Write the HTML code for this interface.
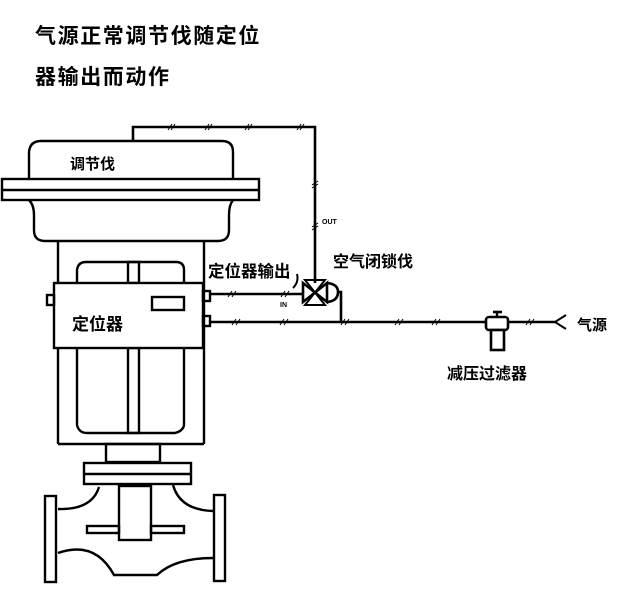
<!DOCTYPE html>
<html><head><meta charset="utf-8"><style>
html,body{margin:0;padding:0;background:#fff;}
svg{display:block;}
text{font-family:"Liberation Sans","Noto Sans CJK SC","WenQuanYi Zen Hei",sans-serif;font-weight:bold;fill:#000;}
</style></head><body>
<svg width="617" height="602" viewBox="0 0 617 602" xmlns="http://www.w3.org/2000/svg">
<g fill="none" stroke="#000" stroke-width="2.4">
<polyline points="133,141 133,127 315,127 315,283" stroke-width="2.6"/>
<path d="M29,179 L29,152 Q30,141 41,141 L222,141 Q233,141 233,152 L233,179"/>
<rect x="2" y="179" width="257" height="21"/>
<line x1="2" y1="190" x2="259" y2="190" stroke-width="2.6"/>
<path d="M29,200 Q34,205 34,215 L34,230 Q34,241 45,241 L218,241 Q229,241 229,230 L229,215 Q229,205 233,200"/>
<line x1="58" y1="241" x2="58" y2="444"/>
<line x1="204" y1="241" x2="204" y2="444"/>
<line x1="58" y1="444" x2="204" y2="444"/>
<path d="M77,283 L77,270 Q78,262 86,262 L176,262 Q184,262 184,270 L184,283"/>
<path d="M77,348 L77,425 Q79,433 87,433 L175,433 Q183,431 184,425 L184,348"/>
<rect x="128" y="262" width="11" height="21"/>
<rect x="128" y="348" width="11" height="85"/>
<rect x="54" y="283" width="149" height="65" fill="#fff"/>
<rect x="47" y="295" width="7" height="10"/>
<rect x="203" y="291" width="7" height="10"/>
<rect x="203" y="316" width="7" height="10"/>
<rect x="152" y="297" width="32" height="13"/>
<line x1="210" y1="294" x2="303" y2="294" stroke-width="2.6"/>
<line x1="210" y1="322" x2="555" y2="322" stroke-width="2.6"/>
<path d="M303,283 L303,302 L327,283 L327,302 Z" stroke-width="2.6"/>
<path d="M305,280 L325,280 L305,305 L325,305 Z" stroke-width="2"/>
<path d="M327,283 Q338,284 338,292 Q338,301 327,302" stroke-width="2.6"/>
<polyline points="337,292 341,292 341,322" stroke-width="2.6"/>
<path d="M297,274 Q299,282 293,288" stroke-width="2"/>
<line x1="493" y1="312" x2="502" y2="312" stroke-width="2.6"/>
<line x1="497" y1="312" x2="497" y2="317"/>
<rect x="486" y="317" width="22" height="13" rx="3" fill="#fff" stroke-width="2.6"/>
<rect x="491" y="330" width="13" height="20" fill="#fff" stroke-width="2.6"/>
<polyline points="566,315 555,322 566,329" stroke-width="2"/>
<g stroke-width="1">
<path d="M168,130 l4,-6 M171,130 l4,-6 M205,130 l4,-6 M208,130 l4,-6 M245,130 l4,-6 M248,130 l4,-6 M297,130 l4,-6 M300,130 l4,-6"/>
<path d="M312,185 l6,-4 M312,188 l6,-4 M312,227 l6,-4 M312,230 l6,-4"/>
<path d="M228,297 l4,-6 M232,297 l4,-6 M281,297 l4,-6 M285,297 l4,-6"/>
<path d="M232,325 l4,-6 M236,325 l4,-6 M280,325 l4,-6 M284,325 l4,-6 M341,325 l4,-6 M345,325 l4,-6 M395,325 l4,-6 M399,325 l4,-6 M432,325 l4,-6 M436,325 l4,-6 M526,325 l4,-6 M530,325 l4,-6"/>
</g>
<rect x="106" y="444" width="54" height="18"/>
<rect x="84" y="463" width="107" height="21"/>
<line x1="84" y1="474" x2="191" y2="474"/>
<rect x="119" y="486" width="32" height="54" fill="#fff"/>
<rect x="87" y="526" width="32" height="7"/>
<rect x="151" y="526" width="33" height="7"/>
<rect x="45" y="496" width="11" height="86"/>
<rect x="214" y="495" width="11" height="86"/>
<path d="M58,509 Q92,510 99,487"/>
<path d="M173,485 Q180,510 213,511"/>
<path d="M58,553 Q95,540 114,575 L157,575 Q175,558 213,558"/>
</g>
<text x="35" y="43" font-size="21" letter-spacing="1.6">气源正常调节伐随定位</text>
<text x="35" y="84" font-size="21" letter-spacing="1.6">器输出而动作</text>
<text x="70" y="169" font-size="15">调节伐</text>
<text x="72" y="330" font-size="17">定位器</text>
<text x="208" y="277" font-size="16.5">定位器输出</text>
<text x="333" y="267" font-size="16">空气闭锁伐</text>
<text x="447" y="379" font-size="16">减压过滤器</text>
<text x="577" y="330" font-size="15">气源</text>
<text x="322" y="224" font-size="7">OUT</text>
<text x="280" y="307" font-size="7">IN</text>
</svg>
</body></html>
